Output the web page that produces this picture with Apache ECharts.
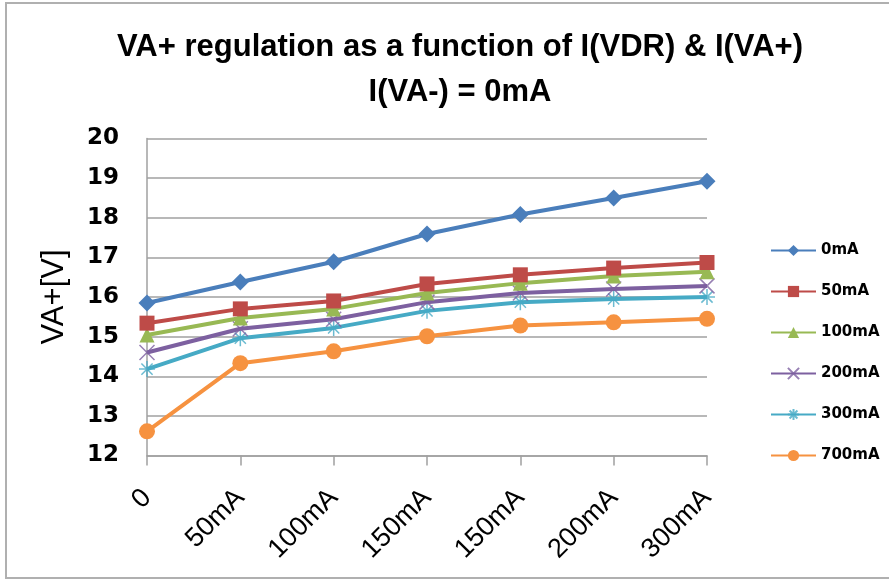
<!DOCTYPE html>
<html>
<head>
<meta charset="utf-8">
<script src="https://cdn.jsdelivr.net/npm/echarts@6/dist/echarts.min.js"></script>
<style>
html,body{margin:0;padding:0;background:#fff;}
#c{width:889px;height:579px;}
</style>
</head>
<body>
<div id="c"></div>
<script>
const categories = ['0', '50mA', '100mA', '150mA', '150mA', '200mA', '300mA'];
const seriesNames = ['0mA', '50mA', '100mA', '200mA', '300mA', '700mA'];
const s0mA   = [15.85, 16.38, 16.89, 17.59, 18.08, 18.50, 18.92];
const s50mA  = [15.34, 15.70, 15.90, 16.33, 16.56, 16.73, 16.87];
const s100mA = [15.04, 15.47, 15.70, 16.10, 16.35, 16.53, 16.64];
const s200mA = [14.60, 15.20, 15.44, 15.87, 16.10, 16.20, 16.28];
const s300mA = [14.18, 14.96, 15.22, 15.65, 15.87, 15.95, 16.00];
const s700mA = [12.61, 14.33, 14.63, 15.01, 15.28, 15.36, 15.45];
const yTicks = { min: 12, max: 20, interval: 1 };

const values = [s0mA, s50mA, s100mA, s200mA, s300mA, s700mA];
const colors = ['#4A7EBB', '#BE4B48', '#98B954', '#7D60A0', '#46AAC5', '#F69240'];
const symbols = [
  'diamond', 'rect', 'triangle',
  'path://M0,0L10,10M10,0L0,10',
  'path://M5,0L5,10M0,5L10,5M1.5,1.5L8.5,8.5M8.5,1.5L1.5,8.5',
  'circle'
];
const sizes = [17, 15, 15, 15, 16, 16];

const chart = echarts.init(document.getElementById('c'), null, {renderer: 'canvas'});
const series = seriesNames.map((n, i) => {
  const isPath = symbols[i].startsWith('path://');
  return {
    name: n,
    type: 'line',
    data: values[i],
    symbol: symbols[i],
    symbolSize: sizes[i],
    showAllSymbol: true,
    lineStyle: { color: colors[i], width: 4 },
    itemStyle: isPath
      ? { color: colors[i], borderColor: colors[i], borderWidth: 1.5, opacity: 0.8 }
      : { color: colors[i], borderWidth: 0 },
    emphasis: { disabled: true },
    z: 10 - i
  };
});

chart.setOption({
  backgroundColor: '#fff',
  animation: false,
  graphic: [{
    type: 'rect', silent: true,
    shape: { x: 6, y: 3, width: 900, height: 575 },
    style: { fill: 'none', stroke: '#B0B0B0', lineWidth: 2 }
  }],
  title: {
    text: 'VA+ regulation as a function of I(VDR) & I(VA+)\nI(VA-) = 0mA',
    left: 455, top: 20, textAlign: 'center',
    textStyle: {
      fontFamily: '"Liberation Sans", sans-serif',
      fontWeight: 'bold', fontSize: 31, lineHeight: 45, color: '#000'
    }
  },
  legend: {
    orient: 'vertical', left: 765, top: 238,
    itemWidth: 45, itemHeight: 14, itemGap: 26,
    data: seriesNames,
    textStyle: { fontFamily: '"DejaVu Sans"', fontWeight: 'bold', fontSize: 15, color: '#000' }
  },
  grid: { left: 147, right: 182, top: 138.5, bottom: 123.5, containLabel: false },
  xAxis: {
    type: 'category', data: categories, boundaryGap: false,
    axisLine: { lineStyle: { color: '#A0A0A0', width: 1.5 } },
    axisTick: { show: true, length: 10, lineStyle: { color: '#A0A0A0', width: 1.5 } },
    axisLabel: {
      rotate: 45, margin: 38, interval: 0,
      fontFamily: '"Liberation Sans", sans-serif', fontSize: 27, color: '#000'
    },
    splitLine: { show: false }
  },
  yAxis: {
    type: 'value', min: yTicks.min, max: yTicks.max, interval: yTicks.interval,
    name: 'VA+[V]', nameLocation: 'middle', nameGap: 77, nameRotate: 90,
    nameTextStyle: { fontFamily: '"Liberation Sans", sans-serif', fontSize: 31, color: '#000' },
    axisLine: { show: true, lineStyle: { color: '#A0A0A0', width: 1.5 } },
    axisTick: { show: false },
    axisLabel: {
      margin: 28,
      fontFamily: '"DejaVu Sans", sans-serif', fontWeight: 'bold', fontSize: 23, color: '#000'
    },
    splitLine: { lineStyle: { color: '#A0A0A0', width: 1.5 } }
  },
  series: series
});
</script>
</body>
</html>
